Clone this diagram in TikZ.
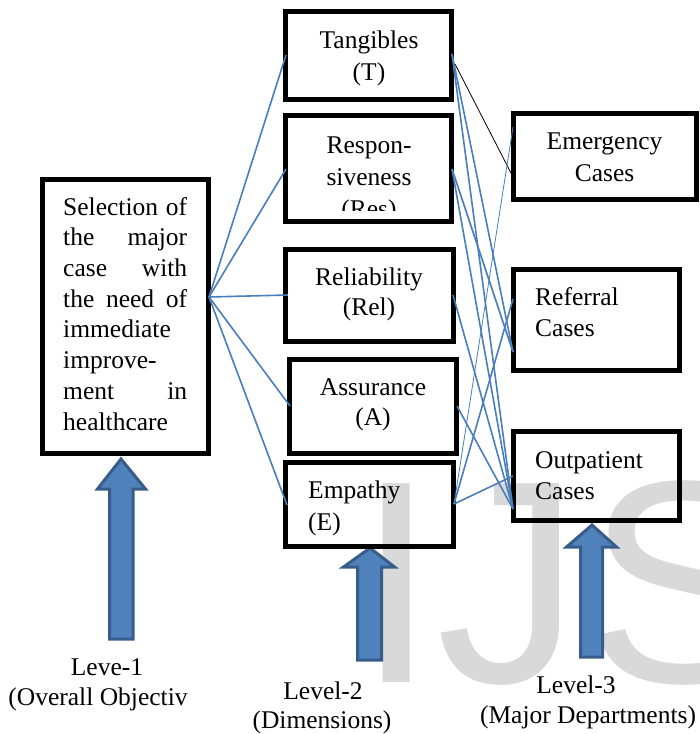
\documentclass[tikz,border=0pt]{standalone}
\usepackage{fontspec}
\setmainfont{Liberation Serif}
\newfontfamily\wmfont{Liberation Sans}
\definecolor{lnblue}{HTML}{4A7EBB}
\definecolor{arfill}{HTML}{4F81BD}
\definecolor{arline}{HTML}{385D8A}
\definecolor{wmgray}{HTML}{D9D9D9}
\begin{document}
\begin{tikzpicture}[x=1pt,y=-1pt,
  box/.style={draw=black, line width=5pt, inner sep=0pt, rectangle},
  tx/.style={inner sep=0pt, anchor=base, font=\fontsize{25.5}{30}\selectfont},
  txl/.style={tx, anchor=base west},
  lbl/.style={inner sep=0pt, anchor=base, font=\fontsize{25.5}{30}\selectfont},
  link/.style={draw=lnblue, line width=1.6pt},
  thinlink/.style={draw=lnblue, line width=0.8pt},
  blacklink/.style={draw=black, line width=0.8pt},
  blockarrow/.style={fill=arfill, draw=arline, line width=3pt, line join=miter}]
\useasboundingbox (0,0) rectangle (700,734);
% watermark
\node[anchor=base west, inner sep=0pt, text=wmgray, font=\wmfont\fontsize{289}{289}\selectfont] (wm) at (356,682) {IJ\kern6pt S};
% block arrows
\draw[blockarrow] (109.5,639) -- (109.5,489) -- (97.5,489) -- (121,459) -- (145.5,489) -- (133,489) -- (133,639) -- cycle;
\draw[blockarrow] (357.5,660) -- (357.5,567) -- (343.5,567) -- (370,548) -- (394.5,567) -- (381.5,567) -- (381.5,660) -- cycle;
\draw[blockarrow] (580.5,657) -- (580.5,547) -- (566.5,547) -- (592,525) -- (616.5,547) -- (602.5,547) -- (602.5,657) -- cycle;
% boxes
\node[box, minimum width=166pt, minimum height=274pt] (L) at (125.5,316.5) {};
\node[box, minimum width=166pt, minimum height=88pt] (T) at (368.5,55.5) {};
\node[box, minimum width=166pt, minimum height=106pt] (Res) at (368.5,168.5) {};
\node[box, minimum width=168pt, minimum height=92pt] (Rel) at (369.5,295.5) {};
\node[box, minimum width=167pt, minimum height=94pt] (A) at (373,406.5) {};
\node[box, minimum width=168pt, minimum height=84pt] (E) at (369.5,504.5) {};
\node[box, minimum width=183pt, minimum height=86pt] (Em) at (605,156.5) {};
\node[box, minimum width=166pt, minimum height=101pt] (Ref) at (596.5,320) {};
\node[box, minimum width=166pt, minimum height=89pt] (Out) at (596.5,476) {};
% left box text
\node[txl] (l1) at (63,215) {\makebox[124pt][s]{Selection of}};
\node[txl] (l2) at (63,245.7) {\makebox[124pt][s]{the major}};
\node[txl] (l3) at (63,276.4) {\makebox[124pt][s]{case with}};
\node[txl] (l4) at (63,307.1) {\makebox[124pt][s]{the need of}};
\node[txl] (l5) at (63,337.8) {immediate};
\node[txl] (l6) at (63,368.5) {improve-};
\node[txl] (l7) at (63,399.2) {\makebox[124pt][s]{ment in}};
\node[txl] (l8) at (63,430) {healthcare};
% dimension texts
\node[tx] (t1) at (369,48) {Tangibles};
\node[tx] (t2) at (369,80) {(T)};
\node[tx] (r1) at (369,153) {Respon-};
\node[tx] (r2) at (369,185) {siveness};
\begin{scope}
  \clip (280,110) rectangle (460,210);
  \node[tx] (r3) at (369,217) {(Res)};
\end{scope}
\node[tx] (e1) at (369,285) {Reliability};
\node[tx] (e2) at (369,315) {(Rel)};
\node[tx] (a1) at (373,395) {Assurance};
\node[tx] (a2) at (373,425) {(A)};
\node[txl] (p1) at (308,498) {Empathy};
\node[txl] (p2) at (308,530) {(E)};
% department texts
\node[tx] (m1) at (604.5,149) {Emergency};
\node[tx] (m2) at (604.5,181) {Cases};
\node[txl] (f1) at (535,305) {Referral};
\node[txl] (f2) at (535,336) {Cases};
\node[txl] (o1) at (535,468) {Outpatient};
\node[txl] (o2) at (535,499) {Cases};
% level labels
\node[lbl] (v1a) at (107,675) {Leve-1};
\node[lbl] (v1b) at (98,705) {(Overall Objectiv};
\node[lbl] (v2a) at (323,699) {Level-2};
\node[lbl] (v2b) at (322,728) {(Dimensions)};
\node[lbl] (v3a) at (576,693) {Level-3};
\node[lbl] (v3b) at (588,723) {(Major Departments)};
% connector points
\coordinate (Lr) at (209,297);
\coordinate (Tl) at (286,55);
\coordinate (Resl) at (286,169);
\coordinate (Rell) at (288,295);
\coordinate (Al) at (290,406);
\coordinate (El) at (287,505);
\coordinate (Tr) at (452,54);
\coordinate (Tr2) at (455,64);
\coordinate (Resr) at (452,169);
\coordinate (Relr) at (453,295);
\coordinate (Ar) at (457,406);
\coordinate (Er) at (454,504);
\coordinate (Em1) at (513,127);
\coordinate (Em2) at (512,175);
\coordinate (Ref1) at (513,299);
\coordinate (Ref2) at (513,352);
\coordinate (Out1) at (513,476);
\coordinate (Out2) at (513,509);
% connectors level 1 -> 2
\draw[link] (Lr) -- (Tl);
\draw[link] (Lr) -- (Resl);
\draw[link] (Lr) -- (Rell);
\draw[link] (Lr) -- (Al);
\draw[link] (Lr) -- (El);
% connectors level 2 -> 3
\draw[blacklink] (Tr2) -- (Em2);
\draw[link] (Tr) -- (Ref2);
\draw[link] (Tr) -- (Out2);
\draw[link] (Resr) -- (Ref2);
\draw[link] (Resr) -- (Out2);
\draw[link] (Relr) -- (Out2);
\draw[link] (Ar) -- (Out2);
\draw[thinlink] (Er) -- (Em1);
\draw[link] (Er) -- (Ref1);
\draw[link] (Er) -- (Out1);
\end{tikzpicture}
\end{document}
